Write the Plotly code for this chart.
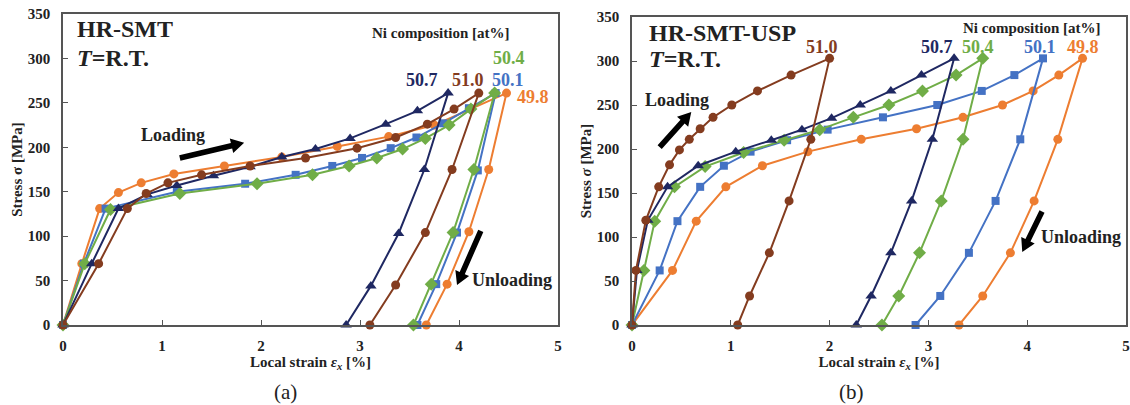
import math
import plotly.graph_objects as go

# ---- HR-SMT, room temperature: local strain [%] / stress [MPa] per Ni content ----
smt_498_strain = [0, 0.19, 0.37, 0.56, 0.79, 1.12, 1.63, 2.21, 2.77, 3.29, 3.75, 4.48, 4.30, 4.10, 3.88, 3.67]
smt_498_stress = [0, 69, 131, 149, 160, 170, 179, 189, 201, 212, 225, 261, 175, 105, 46, 0]

smt_501_strain = [0, 0.21, 0.43, 1.15, 1.84, 2.35, 2.72, 3.02, 3.31, 3.57, 3.84, 4.10, 4.37, 4.19, 3.98, 3.77, 3.58]
smt_501_stress = [0, 69, 131, 150, 159, 169, 179, 188, 199, 211, 227, 244, 261, 174, 104, 46, 0]

smt_504_strain = [0, 0.22, 0.48, 1.18, 1.96, 2.52, 2.89, 3.17, 3.43, 3.66, 3.90, 4.12, 4.36, 4.15, 3.94, 3.72, 3.54]
smt_504_stress = [0, 69, 130, 148, 159, 169, 179, 188, 198, 210, 225, 243, 261, 175, 104, 46, 0]

smt_507_strain = [0, 0.29, 0.56, 0.85, 1.15, 1.52, 1.89, 2.21, 2.55, 2.90, 3.26, 3.58, 3.89, 3.65, 3.39, 3.11, 2.86]
smt_507_stress = [0, 69, 131, 147, 157, 168, 178, 189, 198, 210, 226, 241, 261, 175, 103, 44, 0]

smt_510_strain = [0, 0.36, 0.65, 0.84, 1.06, 1.40, 1.89, 2.45, 2.97, 3.36, 3.68, 3.95, 4.20, 3.93, 3.66, 3.36, 3.10]
smt_510_stress = [0, 69, 131, 148, 160, 169, 179, 188, 199, 211, 226, 243, 261, 175, 104, 45, 0]

# ---- HR-SMT-USP, room temperature ----
usp_498_strain = [0, 0.41, 0.65, 0.95, 1.32, 1.78, 2.32, 2.88, 3.35, 3.75, 4.06, 4.32, 4.56, 4.31, 4.07, 3.83, 3.55, 3.31]
usp_498_stress = [0, 62, 118, 157, 181, 197, 211, 223, 236, 250, 266, 284, 303, 211, 141, 82, 33, 0]

usp_501_strain = [0, 0.28, 0.46, 0.69, 0.93, 1.20, 1.57, 1.98, 2.54, 3.09, 3.54, 3.87, 4.16, 3.93, 3.68, 3.41, 3.12, 2.87]
usp_501_stress = [0, 62, 118, 157, 181, 197, 210, 222, 236, 250, 266, 284, 303, 211, 141, 82, 33, 0]

usp_504_strain = [0, 0.12, 0.23, 0.43, 0.74, 1.13, 1.54, 1.90, 2.24, 2.60, 2.94, 3.28, 3.55, 3.35, 3.13, 2.91, 2.70, 2.53]
usp_504_stress = [0, 62, 118, 157, 180, 196, 210, 222, 236, 250, 266, 284, 303, 211, 141, 82, 33, 0]

usp_507_strain = [0, 0.05, 0.16, 0.36, 0.67, 1.05, 1.41, 1.72, 2.02, 2.31, 2.62, 2.93, 3.26, 3.04, 2.83, 2.62, 2.42, 2.27]
usp_507_stress = [0, 62, 119, 157, 181, 197, 210, 222, 235, 250, 266, 284, 303, 211, 141, 82, 33, 0]

usp_510_strain = [0, 0.04, 0.14, 0.27, 0.38, 0.48, 0.58, 0.69, 0.82, 1.01, 1.27, 1.61, 2.00, 1.81, 1.59, 1.39, 1.19, 1.07]
usp_510_stress = [0, 62, 119, 157, 182, 199, 211, 223, 236, 250, 266, 284, 303, 211, 141, 82, 33, 0]

compositions = ["49.8", "50.1", "50.4", "50.7", "51.0"]
colors = ["#ED7D31", "#4472C4", "#70AD47", "#1F2862", "#843C1F"]
symbols = ["circle", "square", "diamond", "triangle-up", "circle"]
sizes = [9, 8, 10, 10, 9]

smt_series = [(smt_498_strain, smt_498_stress), (smt_501_strain, smt_501_stress),
              (smt_504_strain, smt_504_stress), (smt_507_strain, smt_507_stress),
              (smt_510_strain, smt_510_stress)]
usp_series = [(usp_498_strain, usp_498_stress), (usp_501_strain, usp_501_stress),
              (usp_504_strain, usp_504_stress), (usp_507_strain, usp_507_stress),
              (usp_510_strain, usp_510_stress)]

SERIF = "Liberation Serif"
W, H = 1130, 405
X_RANGE = [0, 5]
Y_RANGE = [0, 350]
dom_x1, dom_y1 = [63 / W, 558 / W], [80 / H, 391 / H]
dom_x2, dom_y2 = [632 / W, 1126 / W], [80 / H, 388 / H]

fig = go.Figure()
for (xs, ys), name, c, s, sz in zip(smt_series, compositions, colors, symbols, sizes):
    fig.add_trace(go.Scatter(x=xs, y=ys, mode="lines+markers", name=name,
                             line=dict(color=c, width=2),
                             marker=dict(symbol=s, size=sz, color=c),
                             cliponaxis=False, showlegend=False,
                             xaxis="x", yaxis="y"))
for (xs, ys), name, c, s, sz in zip(usp_series, compositions, colors, symbols, sizes):
    fig.add_trace(go.Scatter(x=xs, y=ys, mode="lines+markers", name=name,
                             line=dict(color=c, width=2),
                             marker=dict(symbol=s, size=sz, color=c),
                             cliponaxis=False, showlegend=False,
                             xaxis="x2", yaxis="y2"))

tickfont = dict(family=SERIF, size=15, color="#222", weight="bold")
titlefont = dict(family=SERIF, size=15, color="#222", weight="bold")
axis_common = dict(showgrid=False, zeroline=False, showline=True, mirror=True,
                   linecolor="#555", linewidth=1.5, ticks="inside", ticklen=5,
                   tickcolor="#555", tickfont=tickfont, automargin=False)

x_title = "Local strain <i>ε<sub>x</sub></i> [%]"
fig.update_layout(
    width=W, height=H,
    margin=dict(l=0, r=0, t=0, b=0, autoexpand=False),
    paper_bgcolor="white", plot_bgcolor="white",
    xaxis=dict(domain=dom_x1, range=X_RANGE, dtick=1, anchor="y",
               title=dict(text=x_title, font=titlefont, standoff=2),
               ticklabelstandoff=6, **axis_common),
    yaxis=dict(domain=dom_y1, range=Y_RANGE, dtick=50, anchor="x",
               title=dict(text="Stress σ [MPa]", font=titlefont, standoff=2),
               ticklabelstandoff=8, **axis_common),
    xaxis2=dict(domain=dom_x2, range=X_RANGE, dtick=1, anchor="y2",
                title=dict(text=x_title, font=titlefont, standoff=2),
                ticklabelstandoff=6, **axis_common),
    yaxis2=dict(domain=dom_y2, range=Y_RANGE, dtick=50, anchor="x2",
                title=dict(text="Stress <i>σ</i> [MPa]", font=titlefont, standoff=2),
                ticklabelstandoff=8, **axis_common),
)


def label(text, x, y, xr, yr, size=18, color="#222", xanchor="center", bold=True):
    fig.add_annotation(text=text, x=x, y=y, xref=xr, yref=yr, showarrow=False,
                       xanchor=xanchor, yanchor="middle",
                       font=dict(family=SERIF, size=size, color=color,
                                 weight="bold" if bold else "normal"))


def arrow(x0, y0, x1, y1, xr, yr, dom_x, dom_y, shaft=2.8, head_w=7.5, head_len=13):
    """Filled block arrow from (x0, y0) to (x1, y1) in data units of the given axes."""
    sx = (dom_x[1] - dom_x[0]) * W / (X_RANGE[1] - X_RANGE[0])   # px per strain unit
    sy = (dom_y[1] - dom_y[0]) * H / (Y_RANGE[1] - Y_RANGE[0])   # px per MPa
    px0, py0, px1, py1 = x0 * sx, y0 * sy, x1 * sx, y1 * sy
    length = math.hypot(px1 - px0, py1 - py0)
    ux, uy = (px1 - px0) / length, (py1 - py0) / length
    nx, ny = -uy, ux
    bx, by = px1 - ux * head_len, py1 - uy * head_len
    pts = [(px0 + nx * shaft, py0 + ny * shaft), (bx + nx * shaft, by + ny * shaft),
           (bx + nx * head_w, by + ny * head_w), (px1, py1),
           (bx - nx * head_w, by - ny * head_w), (bx - nx * shaft, by - ny * shaft),
           (px0 - nx * shaft, py0 - ny * shaft)]
    path = "M " + " L ".join(f"{px / sx:.4f},{py / sy:.3f}" for px, py in pts) + " Z"
    fig.add_shape(type="path", path=path, xref=xr, yref=yr,
                  fillcolor="black", line=dict(width=0), layer="above")


# Panel (a): HR-SMT
label("HR-SMT", 0.12, 333, "x", "y", size=24, xanchor="left")
label("<i>T</i>=R.T.", 0.12, 301, "x", "y", size=24, xanchor="left")
label("Ni composition [at%]", 3.82, 329, "x", "y", size=15)
label("50.4", 4.50, 301, "x", "y", color=colors[2])
label("50.7", 3.63, 276, "x", "y", color=colors[3])
label("51.0", 4.09, 276, "x", "y", color=colors[4])
label("50.1", 4.49, 276, "x", "y", color=colors[1])
label("49.8", 4.75, 257, "x", "y", color=colors[0])
label("Loading", 1.11, 214, "x", "y")
label("Unloading", 4.54, 51, "x", "y")
arrow(1.18, 188, 1.83, 205, "x", "y", dom_x1, dom_y1)
arrow(4.22, 106, 3.98, 45, "x", "y", dom_x1, dom_y1)

# Panel (b): HR-SMT-USP
label("HR-SMT-USP", 0.15, 332, "x2", "y2", size=24, xanchor="left")
label("<i>T</i>=R.T.", 0.15, 302, "x2", "y2", size=24, xanchor="left")
label("Loading", 0.46, 256, "x2", "y2")
label("Ni composition [at%]", 4.05, 337, "x2", "y2", size=15)
label("51.0", 1.92, 316, "x2", "y2", color=colors[4])
label("50.7", 3.09, 316, "x2", "y2", color=colors[3])
label("50.4", 3.50, 316, "x2", "y2", color=colors[2])
label("50.1", 4.13, 316, "x2", "y2", color=colors[1])
label("49.8", 4.56, 316, "x2", "y2", color=colors[0])
label("Unloading", 4.545, 100, "x2", "y2")
arrow(0.28, 202, 0.60, 242, "x2", "y2", dom_x2, dom_y2)
arrow(4.15, 129, 3.95, 83, "x2", "y2", dom_x2, dom_y2)

# Panel captions
label("(a)", 285 / W, 13 / H, "paper", "paper", size=21, bold=False)
label("(b)", 851 / W, 13 / H, "paper", "paper", size=21, bold=False)

fig.write_html("out.html")
